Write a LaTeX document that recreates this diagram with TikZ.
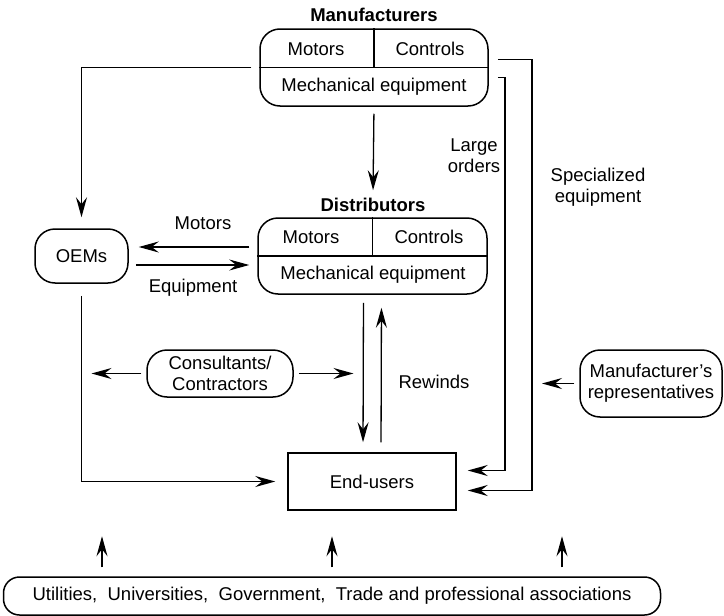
\documentclass[tikz,border=0pt]{standalone}
\usepackage{fontspec}
\setmainfont{Liberation Sans}
\usetikzlibrary{arrows.meta,positioning}

\begin{document}
\begin{tikzpicture}[x=1pt,y=-1pt,line width=1.3pt,
  every node/.style={font=\fontsize{18.5}{21}\selectfont},
  title/.style={font=\fontsize{18.5}{21}\selectfont\bfseries},
  box/.style={draw,line width=1.5pt,rounded corners=20pt,inner sep=0pt},
  arr/.style={-{Stealth[length=20pt,width=11pt,inset=7pt]}}]
\useasboundingbox (0,0) rectangle (724,616);

\node[box,minimum width=228pt,minimum height=77pt] (manuf) at (374,67.5) {};
\draw[line width=1.5pt] (manuf.west) -- (manuf.east) (manuf.north) -- (manuf.center);
\node[title] (mtitle) at (374,15) {Manufacturers};
\node (mmot) at (316,49) {Motors};
\node (mcon) at (430,49) {Controls};
\node (mmec) at (374,87) {Mechanical equipment};

\node[box,minimum width=229pt,minimum height=76pt] (dist) at (372.5,256) {};
\draw[line width=1.5pt] (dist.west) -- (dist.east) (dist.north) -- (dist.center);
\node[title] (dtitle) at (373,205) {Distributors};
\node (dmot) at (311,237) {Motors};
\node (dcon) at (429,237) {Controls};
\node (dmec) at (373,275) {Mechanical equipment};

\node[box,minimum width=93pt,minimum height=54pt] (oems) at (81.5,256) {OEMs};
\node[box,minimum width=146pt,minimum height=47pt,align=center] (cons) at (220,373.5) {Consultants/\\Contractors};
\node[box,minimum width=142pt,minimum height=67pt,align=center] (reps) at (651,383.5) {Manufacturer's\\representatives};
\node[draw,line width=1.5pt,minimum width=168pt,minimum height=57pt] (endu) at (372,481.5) {End-users};
\node[box,rounded corners=16pt,minimum width=657pt,minimum height=38pt] (util) at (332,596)
  {Utilities,\ \ Universities,\ \ Government,\ \ Trade and professional associations};

\node (lmot) at (203,223) {Motors};
\node (lequ) at (193,288) {Equipment};
\node[align=center] (lord) at (474,156) {Large\\orders};
\node[align=center] (lspe) at (598,187) {Specialized\\equipment};
\node (lrew) at (434,382) {Rewinds};

\coordinate (lo) at (505,250);
\coordinate (sp) at (532,250);
\coordinate (dn) at ([xshift=-9pt]dist.south);

\draw[arr,shorten <=8pt,shorten >=11pt] (manuf.west) -| (oems.north);
\draw[arr,shorten <=7pt,shorten >=4pt] (manuf.south) -- (dtitle.north);
\draw[arr,shorten <=9pt,shorten >=11pt] ([yshift=-10pt]manuf.east) -| (lo) |- ([yshift=11pt]endu.east);
\draw[arr,shorten <=9pt,shorten >=11pt] ([yshift=8pt]manuf.east) -| (sp) |- ([yshift=-9pt]endu.east);

\draw[arr,shorten <=8pt,shorten >=10pt] ([yshift=9pt]dist.west) -- ([yshift=9pt]oems.east);
\draw[arr,shorten <=7pt,shorten >=8pt] ([yshift=-9pt]oems.east) -- ([yshift=-9pt]dist.west);
\draw[arr,shorten <=12pt,shorten >=12pt] (oems.south) |- (endu.west);

\draw[arr,shorten <=8pt,shorten >=10pt] (dn) -- ([xshift=-9pt]endu.north);
\draw[arr,shorten <=10pt,shorten >=13pt] ([xshift=9pt]endu.north) -- ([xshift=9pt]dist.south);

\draw[arr,shorten <=5pt,shorten >=10pt] (cons.west) -- (cons.west -| oems.south);
\draw[arr,shorten <=5pt,shorten >=10pt] (cons.east) -- (cons.east -| dn);
\draw[arr,shorten <=5pt,shorten >=10pt] (reps.west) -- (reps.west -| sp);

\foreach \dx in {-230,0,230}
  \draw[arr,shorten <=9pt] ([xshift=\dx pt]util.north) -- ++(0,-40);
\end{tikzpicture}
\end{document}
